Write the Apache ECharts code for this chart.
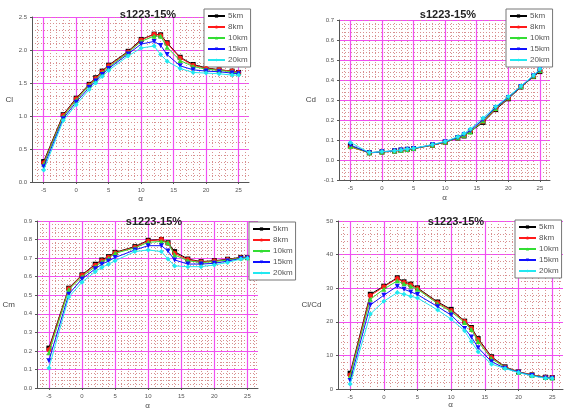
<!DOCTYPE html>
<html>
<head>
<meta charset="utf-8">
<script src="https://cdn.jsdelivr.net/npm/echarts@6/dist/echarts.min.js"></script>
<style>
  html, body { margin: 0; padding: 0; background: #fff; }
  #main { width: 574px; height: 419px; }
</style>
</head>
<body>
<div id="main"></div>
<script>
// angle of attack
const alpha = [-5, -2, 0, 2, 3, 4, 5, 8, 10, 12, 13, 14, 16, 18, 20, 22, 24, 25];
const altitudes = ["5km", "8km", "10km", "15km", "20km"];

// lift coefficient
const cl5km = [0.31, 1.02, 1.27, 1.48, 1.58, 1.68, 1.77, 1.98, 2.16, 2.24, 2.23, 2.11, 1.89, 1.78, 1.73, 1.70, 1.68, 1.66];
const cl8km = [0.29, 1.01, 1.26, 1.47, 1.57, 1.67, 1.76, 1.97, 2.15, 2.24, 2.22, 2.10, 1.88, 1.77, 1.72, 1.70, 1.68, 1.66];
const cl10km = [0.27, 0.99, 1.24, 1.46, 1.55, 1.65, 1.74, 1.96, 2.13, 2.21, 2.21, 2.04, 1.84, 1.75, 1.71, 1.69, 1.67, 1.65];
const cl15km = [0.23, 0.96, 1.21, 1.43, 1.53, 1.63, 1.72, 1.94, 2.09, 2.13, 2.07, 1.93, 1.76, 1.70, 1.68, 1.67, 1.65, 1.64];
const cl20km = [0.18, 0.93, 1.17, 1.40, 1.50, 1.60, 1.69, 1.91, 2.03, 2.06, 1.93, 1.83, 1.72, 1.66, 1.65, 1.64, 1.62, 1.62];

// drag coefficient
const cd5km = [0.070, 0.036, 0.040, 0.045, 0.049, 0.053, 0.057, 0.074, 0.089, 0.110, 0.120, 0.142, 0.188, 0.252, 0.306, 0.365, 0.417, 0.442];
const cd8km = [0.065, 0.036, 0.040, 0.045, 0.049, 0.053, 0.057, 0.074, 0.089, 0.110, 0.122, 0.144, 0.192, 0.255, 0.309, 0.366, 0.419, 0.445];
const cd10km = [0.068, 0.036, 0.040, 0.045, 0.049, 0.053, 0.057, 0.075, 0.090, 0.111, 0.124, 0.140, 0.196, 0.258, 0.311, 0.367, 0.420, 0.447];
const cd15km = [0.075, 0.036, 0.041, 0.046, 0.050, 0.054, 0.058, 0.076, 0.091, 0.113, 0.127, 0.148, 0.202, 0.262, 0.313, 0.368, 0.421, 0.450];
const cd20km = [0.088, 0.037, 0.042, 0.046, 0.050, 0.055, 0.059, 0.077, 0.093, 0.116, 0.132, 0.155, 0.210, 0.267, 0.317, 0.370, 0.424, 0.455];

// moment coefficient
const cm5km = [0.215, 0.538, 0.610, 0.667, 0.690, 0.708, 0.731, 0.762, 0.796, 0.800, 0.783, 0.735, 0.695, 0.681, 0.686, 0.694, 0.704, 0.704];
const cm8km = [0.206, 0.535, 0.607, 0.662, 0.686, 0.704, 0.728, 0.759, 0.792, 0.800, 0.780, 0.726, 0.692, 0.679, 0.684, 0.692, 0.702, 0.703];
const cm10km = [0.190, 0.530, 0.600, 0.654, 0.680, 0.698, 0.726, 0.755, 0.785, 0.790, 0.783, 0.717, 0.686, 0.676, 0.681, 0.690, 0.700, 0.702];
const cm15km = [0.147, 0.505, 0.588, 0.642, 0.667, 0.685, 0.703, 0.744, 0.767, 0.767, 0.738, 0.690, 0.668, 0.668, 0.672, 0.684, 0.698, 0.700];
const cm20km = [0.108, 0.490, 0.570, 0.627, 0.650, 0.667, 0.686, 0.735, 0.744, 0.735, 0.695, 0.658, 0.654, 0.654, 0.663, 0.677, 0.695, 0.699];

// lift / drag
const ld5km = [4.7, 28.2, 30.6, 33.1, 31.9, 31.2, 30.1, 25.9, 23.7, 20.2, 18.3, 15.0, 9.6, 6.6, 5.1, 4.2, 3.5, 3.4];
const ld8km = [4.2, 27.8, 30.4, 32.9, 31.7, 31.0, 29.9, 25.7, 23.4, 20.1, 18.1, 14.7, 9.4, 6.5, 5.1, 4.2, 3.5, 3.4];
const ld10km = [3.7, 26.7, 29.7, 32.2, 31.3, 30.6, 29.7, 25.4, 23.0, 19.8, 17.7, 14.1, 9.0, 6.4, 5.0, 4.1, 3.4, 3.3];
const ld15km = [2.5, 25.0, 27.9, 30.6, 29.7, 28.9, 28.1, 24.5, 22.0, 18.0, 15.5, 12.3, 8.1, 6.2, 5.0, 4.0, 3.3, 3.2];
const ld20km = [1.5, 22.3, 26.1, 28.7, 28.2, 27.6, 27.1, 23.5, 20.8, 17.3, 14.1, 11.1, 7.4, 6.1, 4.9, 3.9, 3.2, 3.2];

// x tick labels and minor grid positions
const xMajorTicks = [-5, 0, 5, 10, 15, 20, 25];
const xMinorTicks = [-6, -5, -4, -3, -2, -1, 0, 1, 2, 3, 4, 5, 6, 7, 8, 9, 10, 11, 12, 13,
  14, 15, 16, 17, 18, 19, 20, 21, 22, 23, 24, 25, 26];

const lineStyles = [
  { color: "#000000", symbol: "rect", rotate: 0 },
  { color: "#ff1a1a", symbol: "circle", rotate: 0 },
  { color: "#33dd33", symbol: "triangle", rotate: 0 },
  { color: "#1010ff", symbol: "triangle", rotate: 180 },
  { color: "#22e8f0", symbol: "diamond", rotate: 0 },
];

const panels = [
  {
    title: "s1223-15%", cx: 143, ty: 4, yName: "Cl", yMin: 0, yMax: 2.5, yStep: 0.5, digits: 1,
    grid: { left: 32, top: 17, width: 217, height: 165 }, yGap: 19, xGap: 13,
    legend: { left: 204, top: 9 },
    series: [cl5km, cl8km, cl10km, cl15km, cl20km],
  },
  {
    title: "s1223-15%", cx: 443, ty: 4, yName: "Cd", yMin: -0.1, yMax: 0.7, yStep: 0.1, digits: 1,
    grid: { left: 339, top: 20, width: 211, height: 160 }, yGap: 23, xGap: 14,
    legend: { left: 506, top: 9 },
    series: [cd5km, cd8km, cd10km, cd15km, cd20km],
  },
  {
    title: "s1223-15%", cx: 149, ty: 211, yName: "Cm", yMin: 0, yMax: 0.9, yStep: 0.1, digits: 1,
    grid: { left: 37, top: 221, width: 221, height: 167 }, yGap: 22, xGap: 14,
    legend: { left: 249, top: 222 },
    series: [cm5km, cm8km, cm10km, cm15km, cm20km],
  },
  {
    title: "s1223-15%", cx: 451, ty: 211, yName: "Cl/Cd", yMin: 0, yMax: 50, yStep: 10, digits: 0,
    grid: { left: 338, top: 221, width: 225, height: 168 }, yGap: 8, xGap: 10,
    legend: { left: 515, top: 220 },
    series: [ld5km, ld8km, ld10km, ld15km, ld20km],
  },
];

const xMin = -6.8;
const xMax = 26.6;
const majorColor = "#f050f0";
const minorColor = "#d89090";
const labelStyle = { fontSize: 6, color: "#555", fontFamily: "Liberation Sans" };

const chart = echarts.init(document.getElementById("main"));

const option = {
  animation: false,
  backgroundColor: "#fff",
  title: [],
  legend: [],
  grid: [],
  xAxis: [],
  yAxis: [],
  series: [],
};

panels.forEach((p, gi) => {
  option.title.push({
    text: p.title,
    left: p.cx,
    top: p.ty,
    textAlign: "center",
    textStyle: { fontSize: 11, fontWeight: "bold", color: "#222", fontFamily: "Liberation Sans" },
  });
  option.grid.push(Object.assign({ containLabel: false }, p.grid));

  // minor vertical grid
  option.xAxis.push({
    type: "value", gridIndex: gi, min: xMin, max: xMax, position: "bottom",
    axisLine: { show: false },
    axisTick: { show: false, customValues: xMinorTicks },
    axisLabel: { show: false },
    splitLine: { show: true, lineStyle: { color: minorColor, type: [1, 2], width: 1 } },
  });
  // major vertical grid + labels
  option.xAxis.push({
    type: "value", gridIndex: gi, min: xMin, max: xMax, position: "bottom",
    name: "α", nameLocation: "middle", nameGap: p.xGap,
    nameTextStyle: { fontSize: 8, color: "#444", fontFamily: "Liberation Sans" },
    axisLine: { show: true, onZero: false, lineStyle: { color: "#555", width: 1 } },
    axisTick: { show: true, length: 2, customValues: xMajorTicks, lineStyle: { color: "#555" } },
    axisLabel: Object.assign({ customValues: xMajorTicks, margin: 5 }, labelStyle),
    splitLine: { show: true, lineStyle: { color: majorColor, width: 1.2 } },
  });

  option.yAxis.push({
    type: "value", gridIndex: gi, min: p.yMin, max: p.yMax, interval: p.yStep,
    name: p.yName, nameLocation: "middle", nameGap: p.yGap, nameRotate: 0,
    nameTextStyle: { fontSize: 8, color: "#444", fontFamily: "Liberation Sans" },
    axisLine: { show: true, onZero: false, lineStyle: { color: "#555", width: 1 } },
    axisTick: { show: true, length: 2, lineStyle: { color: "#555" } },
    axisLabel: Object.assign({
      margin: 5,
      formatter: (v) => v.toFixed(p.digits),
    }, labelStyle),
    splitLine: { show: true, lineStyle: { color: majorColor, width: 1.2 } },
    minorTick: { show: false, splitNumber: 5 },
    minorSplitLine: { show: true, lineStyle: { color: minorColor, type: [1, 2], width: 1 } },
  });

  option.legend.push({
    left: p.legend.left,
    top: p.legend.top,
    orient: "vertical",
    data: altitudes,
    itemWidth: 17,
    itemHeight: 4,
    itemGap: 3,
    padding: [3, 3, 3, 3],
    borderColor: "#777",
    borderWidth: 1,
    backgroundColor: "#fff",
    textStyle: { fontSize: 8, color: "#555", fontFamily: "Liberation Sans", padding: [0, 0, 0, -2] },
    selectedMode: false,
  });

  p.series.forEach((vals, si) => {
    const st = lineStyles[si];
    option.series.push({
      name: altitudes[si],
      type: "line",
      xAxisIndex: gi * 2 + 1,
      yAxisIndex: gi,
      data: alpha.map((a, i) => [a, vals[i]]),
      symbol: st.symbol,
      symbolRotate: st.rotate,
      symbolSize: 5,
      showAllSymbol: true,
      lineStyle: { color: st.color, width: 1 },
      itemStyle: { color: st.color },
      z: 3 + si,
    });
  });
});

chart.setOption(option);
</script>
</body>
</html>
